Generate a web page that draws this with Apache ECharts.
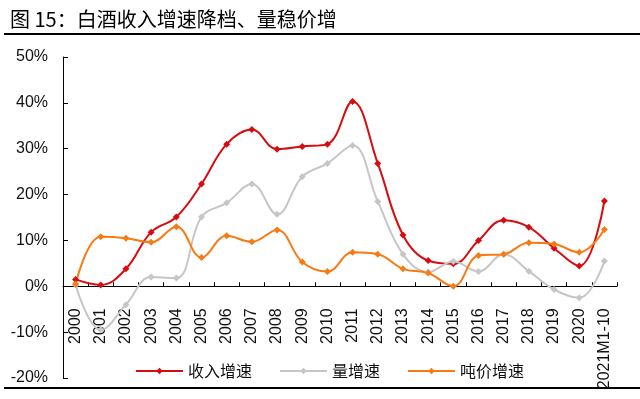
<!DOCTYPE html>
<html>
<head>
<meta charset="utf-8">
<script src="https://cdn.jsdelivr.net/npm/echarts@6/dist/echarts.min.js"></script>
<style>
  html, body { margin: 0; padding: 0; background: #fff; }
  #chart { width: 640px; height: 399px; }
</style>
</head>
<body>
<div id="chart"></div>
<script>
const categories = ['2000', '2001', '2002', '2003', '2004', '2005', '2006', '2007', '2008', '2009', '2010',
  '2011', '2012', '2013', '2014', '2015', '2016', '2017', '2018', '2019', '2020', '2021M1-10']

// 收入增速 (%)
const revenueGrowth = [1.5, 0.3, 3.8, 11.8, 15.1, 22.3, 31.0, 34.2, 29.9, 30.5, 31.0,
  40.3, 26.8, 11.2, 5.6, 4.9, 10.0, 14.4, 12.9, 8.3, 4.4, 18.6]
// 量增速 (%)
const volumeGrowth = [0.3, -9.5, -4.0, 2.0, 1.8, 15.1, 18.2, 22.3, 15.7, 23.9, 26.8,
  30.7, 18.5, 7.0, 3.1, 5.4, 3.2, 7.0, 3.3, -0.7, -2.5, 5.5]
// 吨价增速 (%)
const priceGrowth = [0.5, 10.8, 10.5, 9.6, 13.0, 6.3, 11.0, 9.7, 12.3, 5.3, 3.2,
  7.4, 7.0, 3.8, 2.9, 0.0, 6.7, 7.0, 9.5, 9.2, 7.4, 12.4]

const yMin = -20
const yMax = 50

const chart = echarts.init(document.getElementById('chart'))

const baseFont = 'Liberation Sans, Arial, "Noto Sans CJK SC", sans-serif'

// grid box
const gridTop = 57
const gridBottom = 21
const gridHeight = 399 - gridTop - gridBottom
// lift the category axis from the bottom edge up to the 0% line
const zeroOffset = -gridHeight * (0 - yMin) / (yMax - yMin)

function lineSeries(name, data, color) {
  return {
    name: name,
    type: 'line',
    data: data,
    smooth: 0.4,
    symbol: 'diamond',
    symbolSize: 7,
    lineStyle: { width: 2, color: color },
    itemStyle: { color: color },
    emphasis: { disabled: true }
  }
}

chart.setOption({
  animation: false,
  title: {
    text: '图 15：白酒收入增速降档、量稳价增',
    left: 5,
    top: 4,
    textStyle: {
      fontFamily: '"Noto Sans CJK SC", sans-serif',
      fontSize: 20,
      fontWeight: 'normal',
      color: '#000'
    }
  },
  graphic: [
    { type: 'rect', left: 4, top: 33, shape: { width: 636, height: 2 }, style: { fill: '#000' } },
    { type: 'rect', left: 4, top: 387, shape: { width: 636, height: 2 }, style: { fill: '#000' } }
  ],
  legend: {
    top: 358,
    left: 130,
    itemWidth: 47,
    itemHeight: 8,
    itemGap: 27,
    textStyle: { fontFamily: '"Noto Sans CJK SC", sans-serif', fontSize: 16, color: '#111' },
    data: ['收入增速', '量增速', '吨价增速']
  },
  grid: {
    left: 63,
    right: 23,
    top: gridTop,
    bottom: gridBottom,
    outerBoundsMode: 'none'
  },
  xAxis: {
    type: 'category',
    data: categories,
    boundaryGap: true,
    position: 'bottom',
    offset: zeroOffset,
    axisLine: { show: true, onZero: false, lineStyle: { color: '#000', width: 1 } },
    axisTick: { show: true, inside: true, alignWithLabel: false, length: 4, lineStyle: { color: '#000' } },
    axisLabel: {
      rotate: 90,
      interval: 0,
      margin: 22,
      fontFamily: baseFont,
      fontSize: 16,
      color: '#111'
    },
    splitLine: { show: false }
  },
  yAxis: {
    type: 'value',
    min: yMin,
    max: yMax,
    interval: 10,
    axisLine: { show: true, lineStyle: { color: '#000', width: 1 } },
    axisTick: { show: true, inside: true, length: 5, lineStyle: { color: '#000' } },
    axisLabel: {
      formatter: '{value}%',
      margin: 15,
      fontFamily: baseFont,
      fontSize: 16,
      color: '#111'
    },
    splitLine: { show: false }
  },
  series: [
    lineSeries('收入增速', revenueGrowth, '#D80C10'),
    lineSeries('量增速', volumeGrowth, '#C6C6C6'),
    lineSeries('吨价增速', priceGrowth, '#F77A12')
  ]
})
</script>
</body>
</html>
